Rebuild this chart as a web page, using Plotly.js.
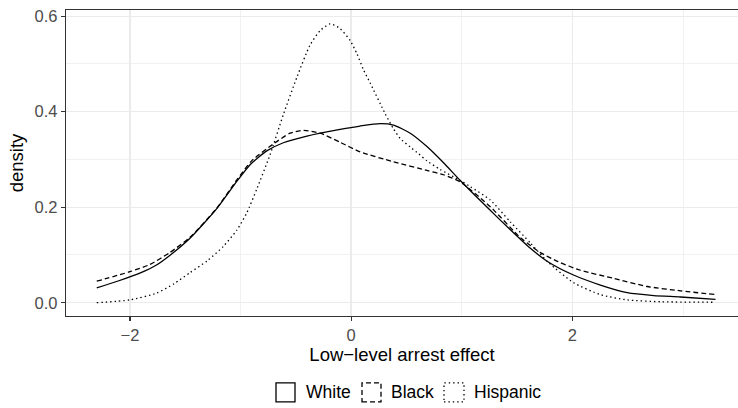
<!DOCTYPE html>
<html>
<head>
<meta charset="utf-8">
<script src="https://cdn.plot.ly/plotly-3.0.1.min.js"></script>
<style>html,body{margin:0;padding:0;background:#fff;}#chart{width:738px;height:408px;}</style>
</head>
<body>
<div id="chart"></div>
<script>
// Density estimates
var whiteX = [-2.30, -2.10, -1.90, -1.76, -1.64, -1.457, -1.215, -1.034, -0.914, -0.763, -0.613, -0.40, -0.10, 0.08, 0.262, 0.383, 0.534, 0.685, 0.835, 0.986, 1.167, 1.348, 1.53, 1.62, 1.771, 2.01, 2.253, 2.495, 2.736, 2.977, 3.294];
var whiteY = [0.031, 0.046, 0.063, 0.079, 0.099, 0.135, 0.197, 0.254, 0.289, 0.318, 0.335, 0.349, 0.363, 0.370, 0.375, 0.372, 0.355, 0.327, 0.293, 0.256, 0.214, 0.173, 0.133, 0.114, 0.087, 0.058, 0.037, 0.021, 0.015, 0.012, 0.007];

var blackX = [-2.30, -2.00, -1.82, -1.64, -1.457, -1.215, -1.034, -0.90, -0.70, -0.552, -0.43, -0.28, -0.10, 0.081, 0.383, 0.685, 0.835, 0.986, 1.258, 1.53, 1.62, 1.71, 1.87, 2.072, 2.374, 2.676, 2.977, 3.294];
var blackY = [0.045, 0.065, 0.080, 0.105, 0.137, 0.198, 0.257, 0.297, 0.333, 0.355, 0.361, 0.355, 0.336, 0.316, 0.295, 0.277, 0.268, 0.253, 0.201, 0.136, 0.120, 0.105, 0.086, 0.068, 0.051, 0.034, 0.025, 0.017];

var hispX = [-2.30, -2.00, -1.76, -1.60, -1.457, -1.30, -1.156, -1.034, -0.944, -0.85, -0.733, -0.613, -0.491, -0.371, -0.28, -0.19, -0.10, -0.009, 0.051, 0.111, 0.172, 0.307, 0.383, 0.443, 0.534, 0.61, 0.685, 0.805, 0.986, 1.077, 1.258, 1.44, 1.62, 1.78, 2.01, 2.253, 2.495, 2.80, 3.294];
var hispY = [0.000, 0.006, 0.020, 0.040, 0.063, 0.088, 0.118, 0.152, 0.188, 0.240, 0.310, 0.394, 0.472, 0.540, 0.570, 0.584, 0.574, 0.549, 0.522, 0.488, 0.460, 0.396, 0.364, 0.344, 0.326, 0.312, 0.297, 0.279, 0.256, 0.243, 0.215, 0.169, 0.125, 0.085, 0.042, 0.017, 0.006, 0.002, 0.001];

var groupNames = ["White", "Black", "Hispanic"];
var xTickVals = [-2, 0, 2];
var xTickText = ["\u22122", "0", "2"];
var yTickVals = [0, 0.2, 0.4, 0.6];
var yTickText = ["0.0", "0.2", "0.4", "0.6"];

var FONT = "Liberation Sans, Arial, Helvetica, sans-serif";
var W = 738, H = 408;
var mL = 66, mR = 0, mT = 9.5, mB = 92;
var plotW = W - mL - mR, plotH = H - mT - mB;
function px2paperX(px) { return (px - mL) / plotW; }
function px2paperY(py) { return (H - mB - py) / plotH; }

var dashes = ["solid", "5px,3px", "1.4px,3px"];
var series = [[whiteX, whiteY], [blackX, blackY], [hispX, hispY]];

var traces = series.map(function (s, i) {
  return {
    x: s[0], y: s[1], type: "scatter", mode: "lines",
    name: groupNames[i], showlegend: false,
    line: { color: "#000000", width: 1.3, dash: dashes[i], shape: "spline", smoothing: 0.6 },
    hoverinfo: "skip"
  };
});

// Legend keys (boxes) drawn like ggplot's density key
var keyBoxes = [[276, 295], [362, 381], [444, 464]];
var textX = [304, 389, 472];
var shapes = [];
var annotations = [];
for (var i = 0; i < 3; i++) {
  shapes.push({
    type: "rect", xref: "paper", yref: "paper",
    x0: px2paperX(keyBoxes[i][0]), x1: px2paperX(keyBoxes[i][1]),
    y0: px2paperY(402), y1: px2paperY(383),
    line: { color: "#000000", width: 1.3, dash: dashes[i] },
    fillcolor: "rgba(0,0,0,0)"
  });
  annotations.push({
    xref: "paper", yref: "paper", x: px2paperX(textX[i]), y: px2paperY(392.5),
    xanchor: "left", yanchor: "middle", showarrow: false,
    text: groupNames[i], font: { family: FONT, size: 17.5, color: "#000000" }
  });
}

var layout = {
  width: W, height: H,
  margin: { l: mL, r: mR, t: mT, b: mB, pad: 0 },
  paper_bgcolor: "#ffffff", plot_bgcolor: "#ffffff",
  showlegend: false,
  xaxis: {
    range: [-2.578, 3.497],
    tickvals: xTickVals, ticktext: xTickText,
    showgrid: true, gridcolor: "#EBEBEB", gridwidth: 1.4,
    minor: { tickvals: [-1, 1, 3], showgrid: true, gridcolor: "#EEEEEE", gridwidth: 0.8, ticks: "" },
    zeroline: false,
    showline: true, linecolor: "#333333", linewidth: 1.3, mirror: true,
    ticks: "outside", ticklen: 4, tickwidth: 1.2, tickcolor: "#333333",
    tickfont: { family: FONT, size: 16.5, color: "#4D4D4D" },
    title: { text: "Low\u2212level arrest effect", font: { family: FONT, size: 18.5, color: "#000000" }, standoff: 4 }
  },
  yaxis: {
    range: [-0.0278, 0.613],
    tickvals: yTickVals, ticktext: yTickText,
    showgrid: true, gridcolor: "#EBEBEB", gridwidth: 1.4,
    minor: { tickvals: [0.1, 0.3, 0.5], showgrid: true, gridcolor: "#EEEEEE", gridwidth: 0.8, ticks: "" },
    zeroline: false,
    showline: true, linecolor: "#333333", linewidth: 1.3, mirror: false,
    ticks: "outside", ticklen: 4, tickwidth: 1.2, tickcolor: "#333333",
    tickfont: { family: FONT, size: 16.5, color: "#4D4D4D" },
    title: { text: "density", font: { family: FONT, size: 18.5, color: "#000000" }, standoff: 6 }
  },
  shapes: shapes,
  annotations: annotations
};

Plotly.newPlot("chart", traces, layout, { displayModeBar: false, staticPlot: true });
</script>
</body>
</html>
